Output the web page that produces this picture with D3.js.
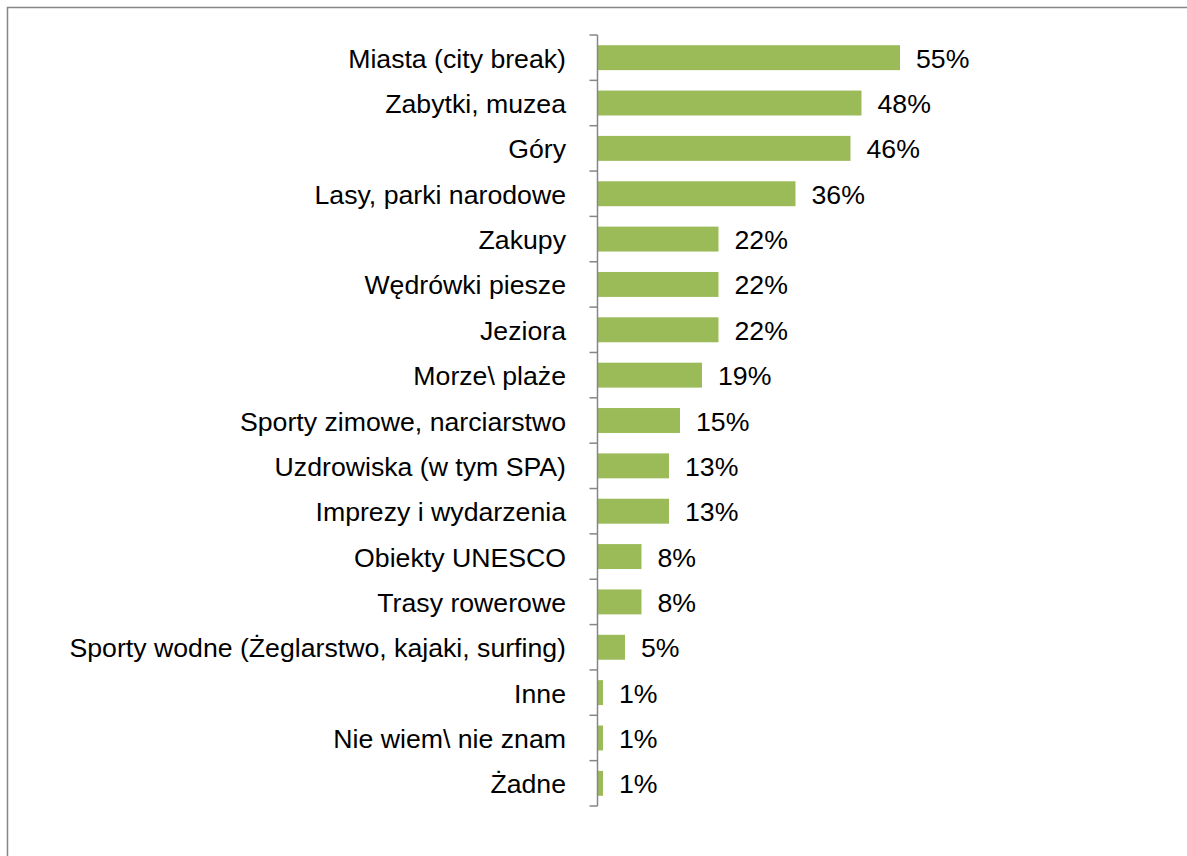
<!DOCTYPE html>
<html>
<head>
<meta charset="utf-8">
<script src="https://cdn.jsdelivr.net/npm/d3@7"></script>
<style>
  html, body { margin: 0; padding: 0; background: #fff; }
  svg { display: block; font-family: "Liberation Sans", Arial, sans-serif; }
</style>
</head>
<body>
<svg id="chart" width="1187" height="856"></svg>
<script>
// Preferred destination types (share of respondents, %)
const categories = [
  "Miasta (city break)",
  "Zabytki, muzea",
  "Góry",
  "Lasy, parki narodowe",
  "Zakupy",
  "Wędrówki piesze",
  "Jeziora",
  "Morze\\ plaże",
  "Sporty zimowe, narciarstwo",
  "Uzdrowiska (w tym SPA)",
  "Imprezy i wydarzenia",
  "Obiekty UNESCO",
  "Trasy rowerowe",
  "Sporty wodne (Żeglarstwo, kajaki, surfing)",
  "Inne",
  "Nie wiem\\ nie znam",
  "Żadne"
];
const values = [55, 48, 46, 36, 22, 22, 22, 19, 15, 13, 13, 8, 8, 5, 1, 1, 1];

const svg = d3.select("#chart");
const W = 1187, H = 856;

// Outer frame (top and left edges visible, continues past the page)
svg.append("path")
  .attr("d", `M7.5,${H} L7.5,7.5 L${W},7.5`)
  .attr("fill", "none")
  .attr("stroke", "#868686")
  .attr("stroke-width", 1.5);

const x0 = 597.5;
const plotTop = 35, plotBottom = 806;
const x = d3.scaleLinear().domain([0, 100]).range([x0, x0 + 550]);
const y = d3.scaleBand().domain(categories).range([plotTop, plotBottom]).paddingInner(0.45).paddingOuter(0.225);

const fontSize = 25;
const stretch = 1.067;   // slightly wide lettering
const midY = d => y(d) + y.bandwidth() / 2;

// Bars
svg.append("g").selectAll("rect")
  .data(categories)
  .join("rect")
  .attr("x", x(0))
  .attr("y", d => y(d))
  .attr("width", (d, i) => x(values[i]) - x(0))
  .attr("height", y.bandwidth())
  .attr("fill", "#9BBB59");

// Category axis: line plus ticks at band boundaries
const tickYs = d3.range(categories.length + 1).map(i => plotTop + i * (plotBottom - plotTop) / categories.length);
const axis = svg.append("g");
axis.append("line")
  .attr("x1", x0).attr("x2", x0)
  .attr("y1", plotTop).attr("y2", plotBottom)
  .attr("stroke", "#868686").attr("stroke-width", 1.5);
axis.selectAll("line.tick")
  .data(tickYs)
  .join("line")
  .attr("class", "tick")
  .attr("x1", x0 - 8).attr("x2", x0)
  .attr("y1", d => d).attr("y2", d => d)
  .attr("stroke", "#868686").attr("stroke-width", 1.5);

// Category labels
svg.append("g").selectAll("text")
  .data(categories)
  .join("text")
  .attr("transform", d => `translate(566,${midY(d)}) scale(${stretch},1)`)
  .attr("dy", "0.4em")
  .attr("text-anchor", "end")
  .attr("font-size", fontSize)
  .attr("fill", "#000")
  .text(d => d);

// Value labels
svg.append("g").selectAll("text")
  .data(categories)
  .join("text")
  .attr("transform", (d, i) => `translate(${x(values[i]) + 16},${midY(d)}) scale(${stretch},1)`)
  .attr("dy", "0.4em")
  .attr("font-size", fontSize)
  .attr("fill", "#000")
  .text((d, i) => values[i] + "%");
</script>
</body>
</html>
